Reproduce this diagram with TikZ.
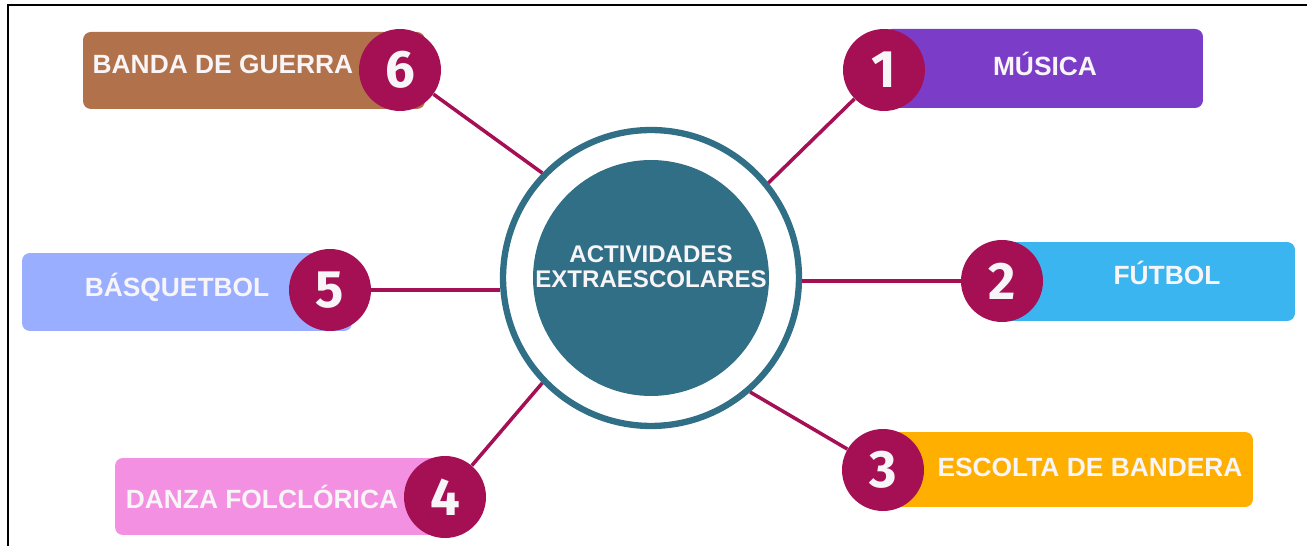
\documentclass[tikz,border=0pt]{standalone}
\usepackage{fontspec}
\setmainfont{Liberation Sans}
\newfontfamily\badgefont{Fira Sans}
\definecolor{ringblue}{HTML}{316F87}
\definecolor{badgered}{HTML}{A51055}
\definecolor{offwhite}{HTML}{F7F5F7}
\definecolor{brownC}{HTML}{B1714A}
\definecolor{purpleC}{HTML}{7B3DC8}
\definecolor{lilacC}{HTML}{9AAEFF}
\definecolor{skyC}{HTML}{3BB5F0}
\definecolor{pinkC}{HTML}{F490E2}
\definecolor{orangeC}{HTML}{FFAF00}
\tikzset
{
    tag/.style     = {rounded corners=4.5pt, inner sep=0pt},
    tagtext/.style = {text=offwhite, anchor=base, inner sep=0pt, font=\bfseries\fontsize{15}{18}\selectfont},
    badge/.style   = {circle, fill=badgered, text=offwhite, inner sep=0pt, minimum size=1.64cm, font=\badgefont\bfseries\fontsize{30}{30}\selectfont},
    hub/.style     = {circle, draw=ringblue, line width=3.6pt, minimum size=5.92cm, inner sep=0pt},
    core/.style    = {circle, fill=ringblue, minimum size=4.72cm, inner sep=0pt, text=offwhite, align=center, font=\bfseries\fontsize{13.7}{14.2}\selectfont},
    spoke/.style   = {draw=badgered, line width=2pt}
}

\begin{document}
\begin{tikzpicture}[x=0.02cm, y=-0.02cm]
\useasboundingbox (0,0) rectangle (1307,546);

%% frame
\draw[line width=1.4pt] (8,546) -- (8,5) -- (1307,5);

%% centre
\node (hub)  [hub]  at (651,278) {};
\node (core) [core] at (651,278) {};
\node [core, fill=none, minimum size=0pt] at (651,267) {ACTIVIDADES\\EXTRAESCOLARES};

%% boxes
\node (box6) [tag, fill=brownC,  minimum width=6.84cm, minimum height=1.54cm] at (254,70.5)  {};
\node (box1) [tag, fill=purpleC, minimum width=6.38cm, minimum height=1.58cm] at (1043.5,68.5) {};
\node (box5) [tag, fill=lilacC,  minimum width=6.60cm, minimum height=1.56cm] at (187,292)   {};
\node (box2) [tag, fill=skyC,    minimum width=5.86cm, minimum height=1.58cm] at (1148.5,281.5) {};
\node (box4) [tag, fill=pinkC,   minimum width=6.50cm, minimum height=1.54cm] at (277.5,496.5) {};
\node (box3) [tag, fill=orangeC, minimum width=7.40cm, minimum height=1.50cm] at (1068,469.5) {};

\node [tagtext] at (223,74)   {BANDA DE GUERRA};
\node [tagtext] at (1045,76)  {MÚSICA};
\node [tagtext] at (177,297)  {BÁSQUETBOL};
\node [tagtext] at (1167,285) {FÚTBOL};
\node [tagtext] at (262,508)  {DANZA FOLCLÓRICA};
\node [tagtext] at (1090,477) {ESCOLTA DE BANDERA};

%% badges
\node (b6) [badge] at (400,70)  {6};
\node (b1) [badge] at (884,70)  {1};
\node (b5) [badge] at (330,290) {5};
\node (b2) [badge] at (1002,281) {2};
\node (b4) [badge] at (445,497) {4};
\node (b3) [badge] at (883,470) {3};

%% spokes
\path
(b6) edge[spoke] (hub.136.6)
(b1) edge[spoke] (hub.39.4)
(b5) edge[spoke] (b5 -| hub.west)
(b2) edge[spoke] (b2 -| hub.east)
(b4) edge[spoke] (hub.224.7)
(b3) edge[spoke] (hub.-49);
\end{tikzpicture}
\end{document}
